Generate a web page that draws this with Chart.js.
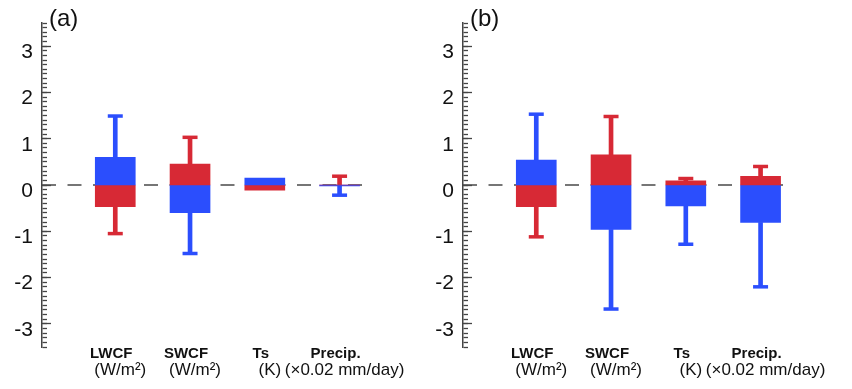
<!DOCTYPE html>
<html>
<head>
<meta charset="utf-8">
<script src="https://cdn.jsdelivr.net/npm/chart.js@4.4.1/dist/chart.umd.min.js"></script>
<style>
  html, body { margin: 0; padding: 0; background: #fff; }
  #wrap { position: relative; width: 852px; height: 389px; overflow: hidden; }
  .panel { position: absolute; top: 0; width: 421px; height: 389px; }
  .tag { position: absolute; top: 6px; left: 49px; font: 24px 'Liberation Sans', Arial, sans-serif; line-height: 1; color: #111; }
</style>
</head>
<body>
<div id="wrap">
  <div class="panel" style="left:0"><canvas id="chartA" width="421" height="389"></canvas><div class="tag">(a)</div></div>
  <div class="panel" style="left:421px"><canvas id="chartB" width="421" height="389"></canvas><div class="tag">(b)</div></div>
</div>
<script>
// === DATA ===
const categories = ["LWCF", "SWCF", "Ts", "Precip."];
const units = ["(W/m²)", "(W/m²)", "(K)", "(×0.02 mm/day)"];
const yTicks = [-3, -2, -1, 0, 1, 2, 3];

// panel (a)
const aBoxTop = [0.60, 0.45, 0.15, 0.00];
const aBoxBottom = [-0.47, -0.60, -0.11, -0.02];
const aWhiskerTop = [1.49, 1.03, null, 0.19];
const aWhiskerBottom = [-1.05, -1.48, null, -0.22];
const aUpperColor = ["blue", "red", "blue", "red"];   // colour of the part above zero

// panel (b)
const bBoxTop = [0.54, 0.65, 0.09, 0.19];
const bBoxBottom = [-0.47, -0.96, -0.45, -0.81];
const bWhiskerTop = [1.53, 1.48, 0.14, 0.40];
const bWhiskerBottom = [-1.12, -2.68, -1.28, -2.20];
const bUpperColor = ["blue", "red", "red", "red"];

// === STYLE ===
const COLORS = { blue: "#2b4efd", red: "#d72935" };
const FONT = "'Liberation Sans', Arial, Helvetica, sans-serif";
const X_MIN = 0.02, X_MAX = 4.3;
const AXIS_LEFT = 42, PLOT_RIGHT = 362;
const PX_PER_X = (PLOT_RIGHT - AXIS_LEFT) / (X_MAX - X_MIN);
const MINOR_LEN = 4.5, MAJOR_LEN = 9;
const AXIS_COLOR = "#444";

Chart.defaults.font.family = FONT;

function other(c) { return c === "blue" ? "red" : "blue"; }

function makePanel(id, boxTop, boxBottom, wTop, wBot, upper) {
  const xs = categories.map((c, i) => i + 1);
  const upCol = upper.map(c => COLORS[c]);
  const lowCol = upper.map(c => COLORS[other(c)]);
  const span = (a, b) => xs.map((x, i) =>
    ({ x, y: (a[i] === null || b[i] === null) ? null : [a[i], b[i]] }));
  const pts = (a) => xs.map((x, i) => ({ x, y: a[i] }));

  const bar = (data, color, thick, order) => ({
    type: "bar", data, backgroundColor: color, borderWidth: 0,
    barThickness: thick, grouped: false, order
  });
  const cap = (data, color) => ({
    type: "line", data, showLine: false, pointStyle: "line",
    pointRadius: 7.5, pointHoverRadius: 7.5, pointBorderWidth: 3.5,
    pointBorderColor: color, order: 1
  });

  const datasets = [
    // dashed zero line
    { type: "line", data: [{ x: X_MIN, y: 0 }, { x: X_MAX, y: 0 }],
      borderColor: "#4a4a4a", borderWidth: 1.5, borderDash: [14, 11.5],
      pointRadius: 0, order: 10 },
    bar(span(boxTop.map(() => 0), boxTop), upCol, 40, 2),
    bar(span(boxBottom, boxBottom.map(() => 0)), lowCol, 40, 2),
    bar(span(boxTop, wTop), upCol, 4, 3),
    bar(span(wBot, boxBottom), lowCol, 4, 3),
    cap(pts(wTop), upCol),
    cap(pts(wBot), lowCol)
  ];

  const xAxis = (labels, weight, height, font, padding, offset) => ({
    type: "linear", min: X_MIN, max: X_MAX, position: "bottom", weight, offset: false,
    grid: { display: false, drawTicks: false }, border: { display: false },
    afterBuildTicks: s => { s.ticks = xs.map(v => ({ value: v })); },
    afterFit: s => { s.height = height; },
    ticks: { autoSkip: false, maxRotation: 0, minRotation: 0, padding, labelOffset: offset,
      color: "#111", font, callback: (v, i) => labels[i] }
  });

  const tickAxis = (len, opts) => Object.assign({
    type: "linear", min: -3.5, max: 3.5,
    position: { x: X_MIN + len / PX_PER_X },
    grid: { display: true, drawOnChartArea: false, drawTicks: true, tickLength: len,
      tickColor: AXIS_COLOR, tickWidth: 1.3 },
    border: { display: false },
    ticks: { display: false, autoSkip: false }
  }, opts);

  new Chart(document.getElementById(id), {
    data: { datasets },
    options: {
      responsive: false, animation: false, devicePixelRatio: 1, events: [],
      layout: { padding: { left: 0, right: 421 - PLOT_RIGHT, top: 23, bottom: 0 } },
      plugins: { legend: { display: false }, tooltip: { enabled: false } },
      scales: {
        x: xAxis(categories, 0, 15, { size: 15, weight: "bold" }, -2, -4),
        x2: xAxis(units, 1, 27, { size: 17 }, -2, 5),
        y: {
          type: "linear", min: -3.5, max: 3.5, position: "left",
          grid: { display: false, drawTicks: false },
          border: { display: true, color: AXIS_COLOR, width: 1.5 },
          afterBuildTicks: s => { s.ticks = yTicks.map(v => ({ value: v })); },
          afterFit: s => { s.width = AXIS_LEFT; },
          ticks: { padding: 9, labelOffset: 6, color: "#111", font: { size: 21 }, autoSkip: false }
        },
        yMinor: tickAxis(MINOR_LEN, {}),
        yMajor: tickAxis(MAJOR_LEN, {
          afterBuildTicks: s => { s.ticks = yTicks.map(v => ({ value: v })); }
        })
      }
    }
  });
  // minor ticks every 0.1
  Chart.getChart(id).options.scales.yMinor.ticks.stepSize = 0.1;
  Chart.getChart(id).update();
}

makePanel("chartA", aBoxTop, aBoxBottom, aWhiskerTop, aWhiskerBottom, aUpperColor);
makePanel("chartB", bBoxTop, bBoxBottom, bWhiskerTop, bWhiskerBottom, bUpperColor);
</script>
</body>
</html>
